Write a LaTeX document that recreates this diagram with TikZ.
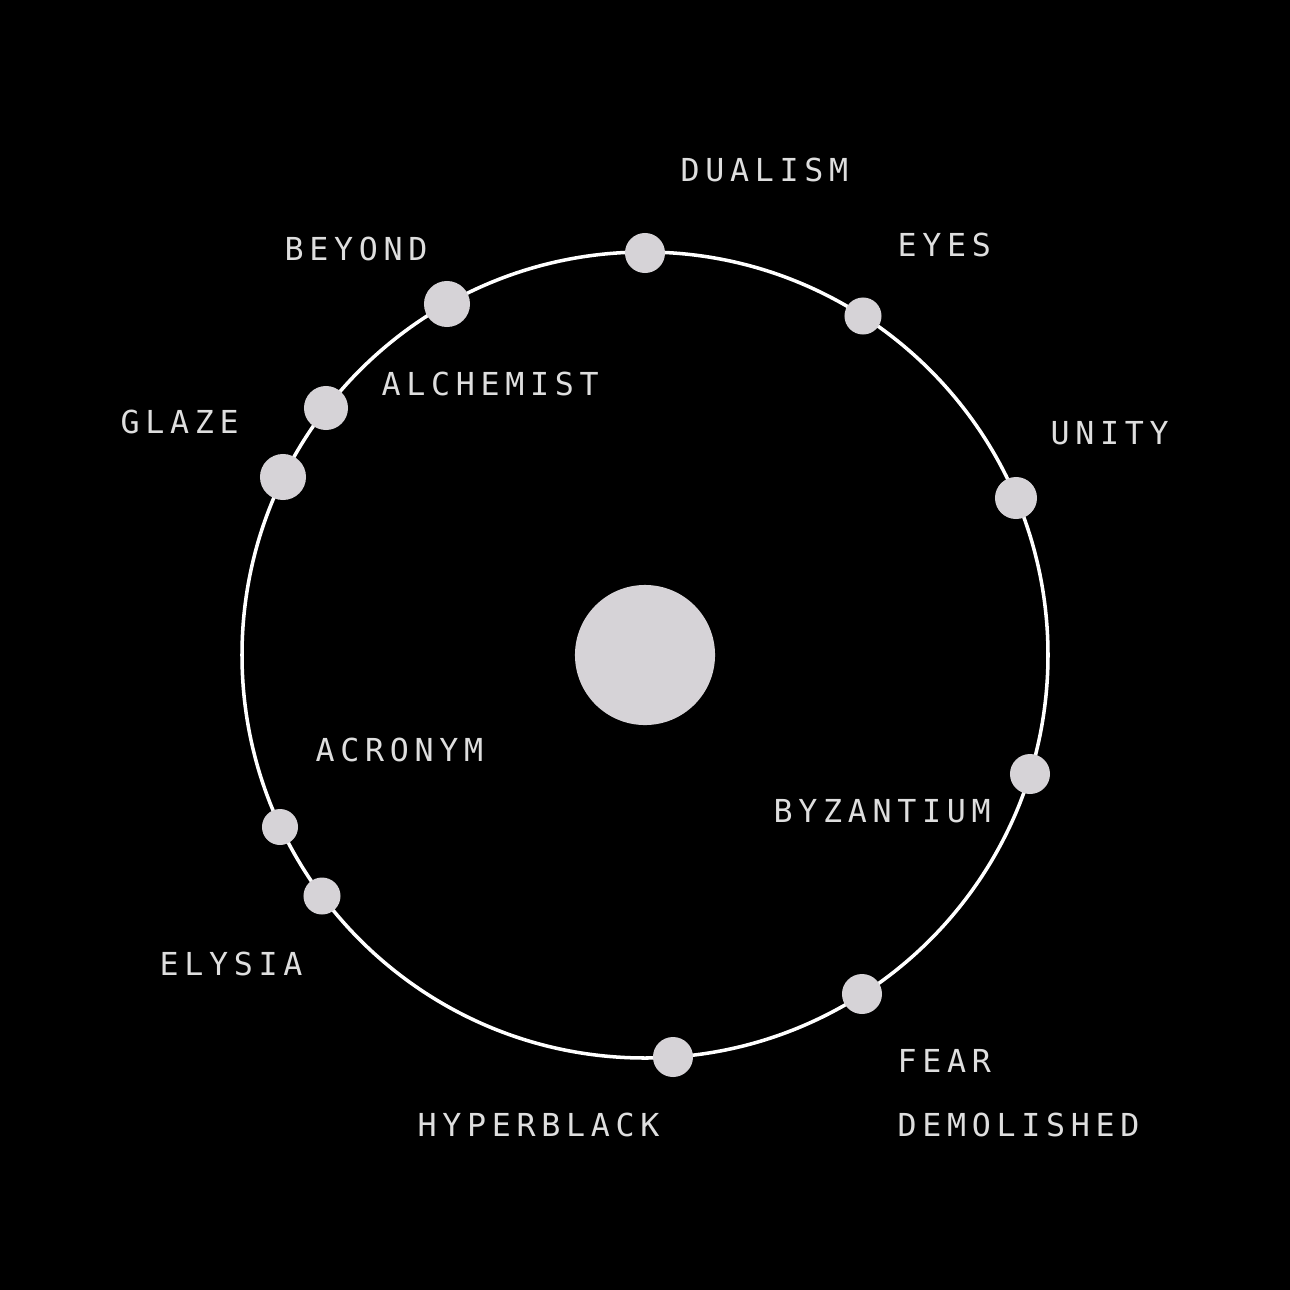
\documentclass[tikz,border=0pt]{standalone}
\usepackage{fontspec}
\newfontfamily\orbitfont[LetterSpace=18]{DejaVu Sans Mono}
\definecolor{moon}{RGB}{214,211,215}
\definecolor{ink}{RGB}{222,222,222}
\begin{document}
\begin{tikzpicture}[
        x=0.01cm, y=-0.01cm,
        dot/.style={circle, fill=moon, inner sep=0pt},
        lbl/.style={anchor=west, inner sep=0pt, text=ink, font=\orbitfont\fontsize{9}{9}\selectfont},
        ring/.style={draw=white, line width=1pt},
    ]
    \fill[black] (0,0) rectangle (1290,1290);
    \useasboundingbox (0,0) rectangle (1290,1290);
    \draw[ring] (645,655) circle [radius=403];
    \node[dot, minimum size=1.4cm](core) at (645,655) {};
    % dots on the ring
    \node[dot, minimum size=0.40cm](dualism) at (645,253) {};
    \node[dot, minimum size=0.37cm](eyes) at (863,316) {};
    \node[dot, minimum size=0.42cm](unity) at (1016,498) {};
    \node[dot, minimum size=0.40cm](byzantium) at (1030,774) {};
    \node[dot, minimum size=0.40cm](fear) at (862,994) {};
    \node[dot, minimum size=0.40cm](hyperblack) at (673,1057) {};
    \node[dot, minimum size=0.37cm](elysia) at (322,896) {};
    \node[dot, minimum size=0.36cm](acronym) at (280,827) {};
    \node[dot, minimum size=0.46cm](glaze) at (283,477) {};
    \node[dot, minimum size=0.44cm](alchemist) at (326,408) {};
    \node[dot, minimum size=0.46cm](beyond) at (447,304) {};
    % labels
    \node[lbl](dualismlbl) at (680,170) {DUALISM};
    \node[lbl](eyeslbl) at (897,245) {EYES};
    \node[lbl](unitylbl) at (1050,433) {UNITY};
    \node[lbl](beyondlbl) at (284,249) {BEYOND};
    \node[lbl](alchemistlbl) at (381,384) {ALCHEMIST};
    \node[lbl](glazelbl) at (120,422) {GLAZE};
    \node[lbl](acronymlbl) at (315,750) {ACRONYM};
    \node[lbl](byzantiumlbl) at (773,811) {BYZANTIUM};
    \node[lbl](elysialbl) at (159,964) {ELYSIA};
    \node[lbl](hyperblacklbl) at (417,1125) {HYPERBLACK};
    \node[lbl](fearlbl) at (897,1061) {FEAR};
    \node[lbl](demolishedlbl) at (897,1125) {DEMOLISHED};
\end{tikzpicture}
\end{document}
